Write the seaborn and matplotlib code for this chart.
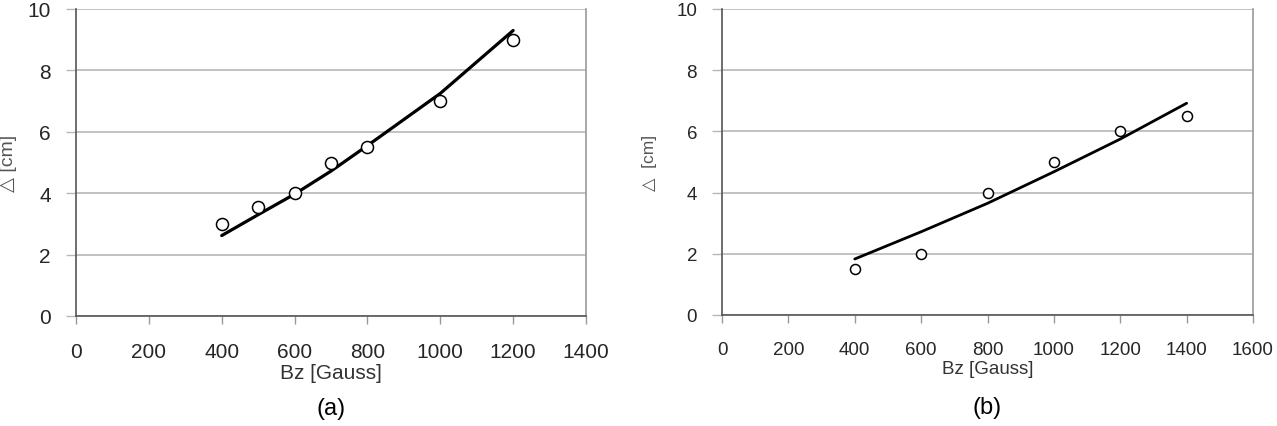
import matplotlib
matplotlib.use("Agg")
import matplotlib.pyplot as plt
import seaborn as sns
import pandas as pd

# panel (a) measured points and fitted curve
bz_a = [400, 500, 600, 700, 800, 1000, 1200]
delta_a = [3.0, 3.55, 4.0, 5.0, 5.5, 7.0, 9.0]
fit_a = [2.62, 3.3, 3.97, 4.72, 5.55, 7.25, 9.3]

# panel (b) measured points and fitted curve
bz_b = [400, 600, 800, 1000, 1200, 1400]
delta_b = [1.5, 2.0, 4.0, 5.0, 6.0, 6.5]
fit_b = [1.83, 2.72, 3.65, 4.68, 5.75, 6.92]

y_ticks = [0, 2, 4, 6, 8, 10]
x_ticks_a = [0, 200, 400, 600, 800, 1000, 1200, 1400]
x_ticks_b = [0, 200, 400, 600, 800, 1000, 1200, 1400, 1600]

sns.set_style("white")
plt.rcParams['font.family'] = ['Liberation Sans', 'DejaVu Sans']

fig = plt.figure(figsize=(12.77, 4.27), dpi=100)
ax_a = fig.add_axes([76 / 1277, 1 - 317 / 427, (586 - 76) / 1277, 307 / 427])
ax_b = fig.add_axes([722 / 1277, 1 - 316 / 427, (1253 - 722) / 1277, 306 / 427])


def draw_panel(ax, bz, delta, fit, xticks, fs, lfs, ms, lw, ylab, ypad, tag):
    df = pd.DataFrame({"bz": bz, "delta": delta, "fit": fit})
    sns.lineplot(data=df, x="bz", y="fit", ax=ax, color="black", lw=lw)
    sns.scatterplot(data=df, x="bz", y="delta", ax=ax, marker="o", s=ms,
                    facecolor="white", edgecolor="black", linewidth=1.1, zorder=3)

    ax.set_xlim(xticks[0], xticks[-1])
    ax.set_ylim(0, 10)
    ax.set_xticks(xticks)
    ax.set_yticks(y_ticks)
    ax.grid(axis="y", color="#b8b8b8", lw=1.2)
    ax.set_axisbelow(True)

    for side in ["left", "bottom"]:
        ax.spines[side].set_color("#555555")
        ax.spines[side].set_linewidth(1.2)
    ax.spines["right"].set_color("#999999")
    ax.spines["right"].set_linewidth(1.2)
    ax.spines["top"].set_visible(False)

    ax.tick_params(axis="y", length=7, width=1.0, color="#b8b8b8",
                   labelsize=fs, pad=11, left=True)
    ax.tick_params(axis="x", length=6, width=1.0, color="#999999",
                   labelsize=fs, pad=13, bottom=True)

    ax.set_xlabel("Bz [Gauss]", fontsize=lfs, color="#333333", labelpad=1)
    ax.set_ylabel(ylab, fontsize=lfs - 1, color="#555555", labelpad=ypad)
    ax.text(0.5, -0.30, tag, transform=ax.transAxes, ha="center", va="center",
            fontsize=17, color="black")


draw_panel(ax_a, bz_a, delta_a, fit_a, x_ticks_a, 15, 15, 75, 2.3,
           "△ [cm]", 8, "(a)")
draw_panel(ax_b, bz_b, delta_b, fit_b, x_ticks_b, 13.5, 13.5, 52, 2.0,
           "△  [cm]", 14, "(b)")

fig.savefig("out.png", dpi=100)
